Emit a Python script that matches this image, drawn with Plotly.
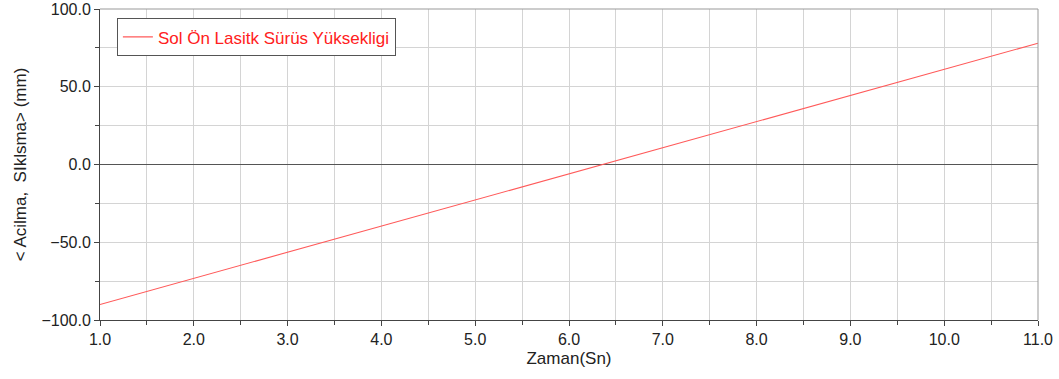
import plotly.graph_objects as go

time_s = [1.0, 2.0, 3.0, 4.0, 5.0, 6.0, 7.0, 8.0, 9.0, 10.0, 11.0]
height_mm = [-90.0, -73.2, -56.4, -39.6, -22.8, -6.0, 10.8, 27.6, 44.4, 61.2, 78.0]
series_name = "Sol Ön Lasitk Sürüs Yüksekligi"
x_title = "Zaman(Sn)"
y_title = "< Acilma,  SIklsma> (mm)"

fig = go.Figure()
fig.add_trace(go.Scatter(x=time_s, y=height_mm, mode="lines", name=series_name,
                         line=dict(color="#ff5a5a", width=1.1)))

grid = "#d4d4d4"
fam = "Liberation Sans, Arial, sans-serif"
fig.update_layout(
    width=1059, height=379,
    margin=dict(l=100, r=21, t=9, b=59),
    paper_bgcolor="white", plot_bgcolor="white",
    font=dict(family=fam, size=16, color="#222"),
    showlegend=True,
    legend=dict(x=0.018, y=0.97, xanchor="left", yanchor="top",
                bgcolor="white", bordercolor="#555", borderwidth=1,
                font=dict(family=fam, size=17, color="#ff2020"),
                itemwidth=30, tracegroupgap=0),
    xaxis=dict(range=[1, 11], dtick=1, tick0=1, tickformat=".1f", automargin=False,
               showgrid=True, gridcolor=grid, gridwidth=1,
               showline=True, linecolor="#444", linewidth=1,
               ticks="outside", ticklen=5, tickcolor="#444",
               minor=dict(dtick=0.5, showgrid=True, gridcolor=grid, ticks="outside", ticklen=4, tickcolor="#444"),
               zeroline=False,
               title=dict(text=x_title, standoff=4, font=dict(size=17)),
               tickfont=dict(size=16)),
    yaxis=dict(range=[-100, 100], dtick=50, tick0=0, tickformat=".1f", automargin=False,
               showgrid=True, gridcolor=grid, gridwidth=1,
               showline=True, linecolor="#444", linewidth=1,
               ticks="outside", ticklen=5, tickcolor="#444",
               minor=dict(dtick=25, showgrid=True, gridcolor=grid, ticks="outside", ticklen=4, tickcolor="#444"),
               zeroline=True, zerolinecolor="#555", zerolinewidth=1,
               title=dict(text=y_title, standoff=10, font=dict(size=17)),
               tickfont=dict(size=16)),
)
fig.add_shape(type="line", xref="paper", yref="paper", x0=0, x1=1, y0=1, y1=1,
              line=dict(color="#999", width=1))
fig.add_shape(type="line", xref="paper", yref="paper", x0=1, x1=1, y0=0, y1=1,
              line=dict(color="#999", width=1))
fig.write_html("out.html", config={"displayModeBar": False},
               post_script="document.body.style.margin='0';document.body.style.overflow='hidden';")
